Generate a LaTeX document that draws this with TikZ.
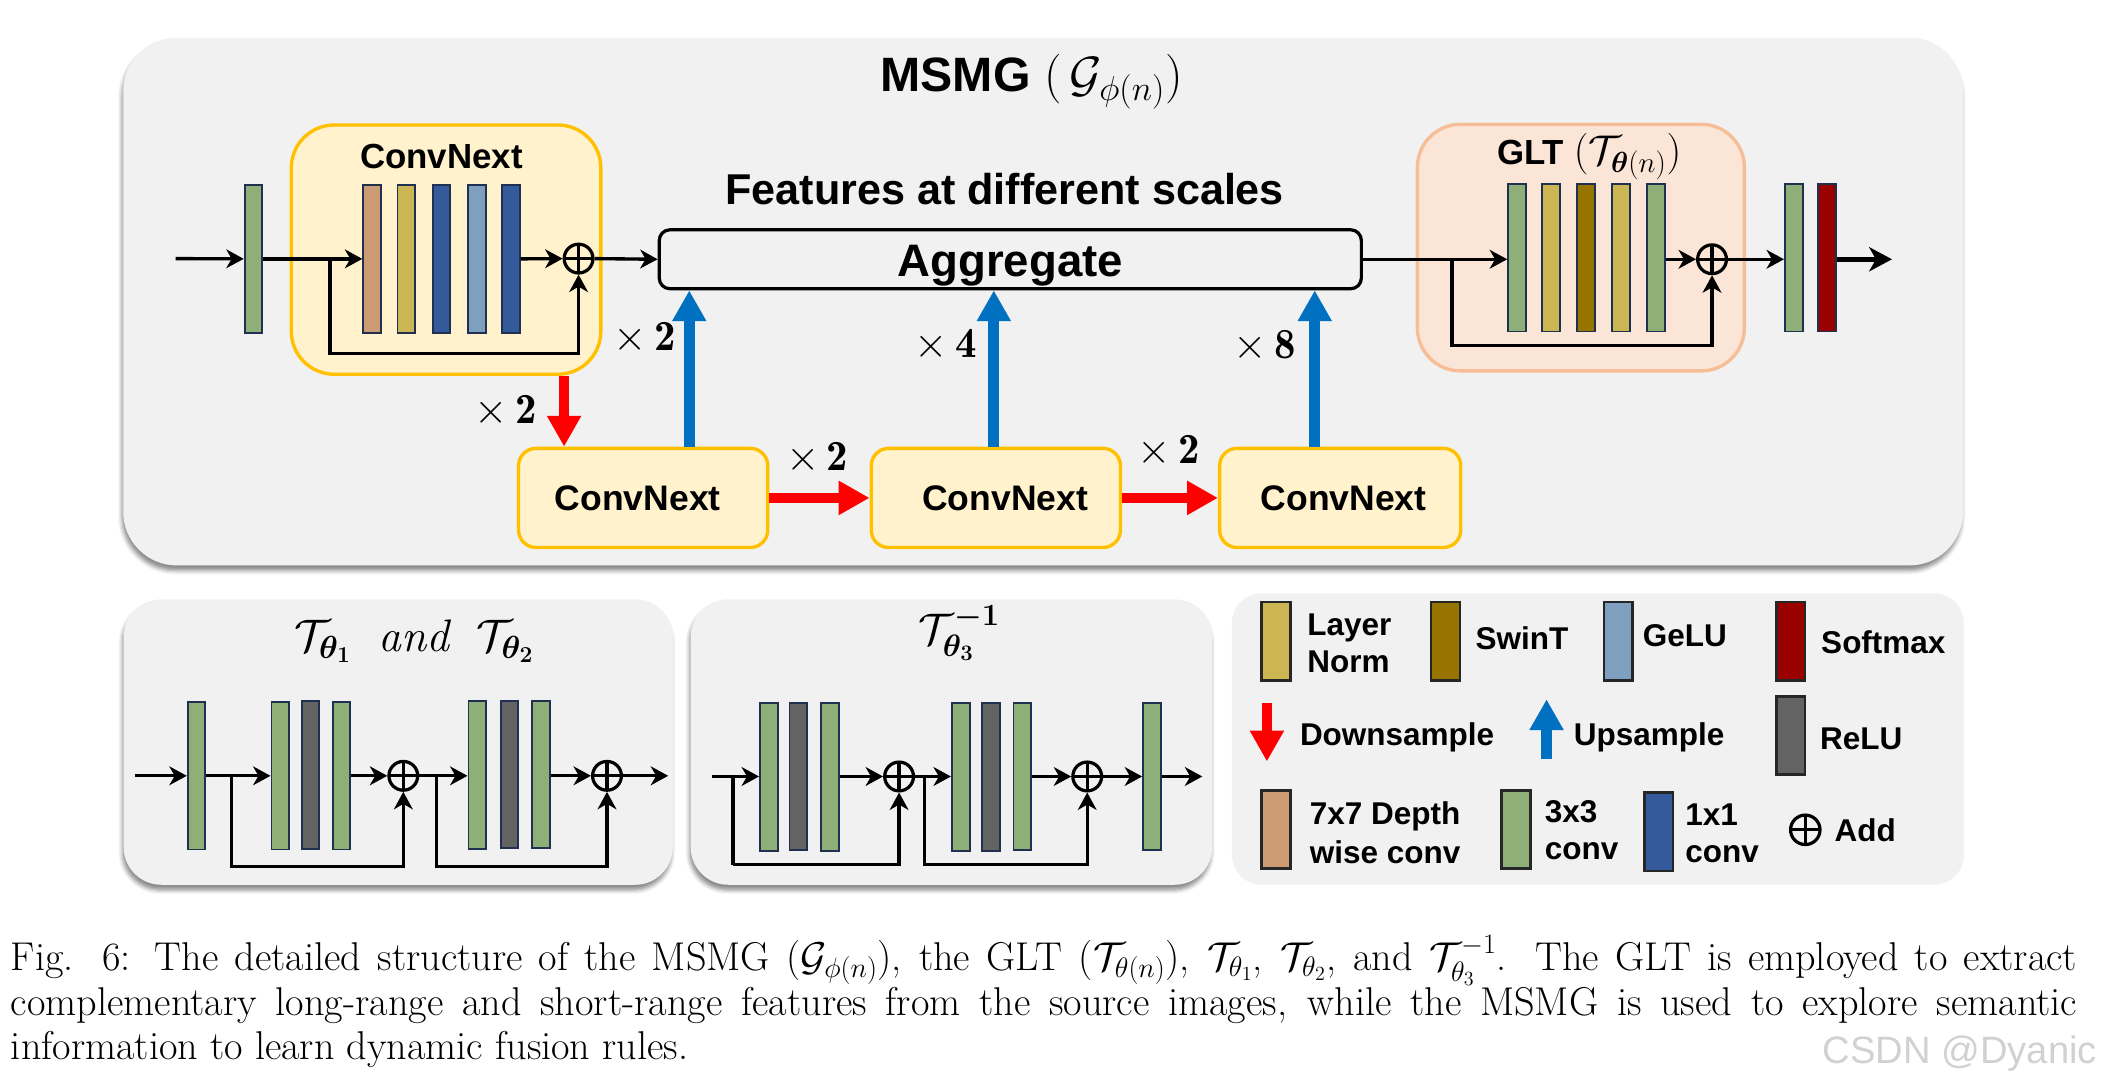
\RequirePackage{fix-cm}
\documentclass[tikz,border=0pt]{standalone}
\usepackage{amsmath,bm}
\usepackage{fontspec}
\newfontfamily\sansf{Liberation Sans}
\usetikzlibrary{arrows.meta,shadows.blur,calc}
\definecolor{panelbg}{HTML}{F1F1F1}
\definecolor{cnfill}{HTML}{FFF2CC}
\definecolor{cndraw}{HTML}{FFC000}
\definecolor{gltfill}{HTML}{FBE5D6}
\definecolor{gltdraw}{HTML}{F5BE96}
\definecolor{cgreen}{HTML}{8FAF78}
\definecolor{ctan}{HTML}{CD9B73}
\definecolor{cyel}{HTML}{CCB654}
\definecolor{cblue}{HTML}{345A9B}
\definecolor{clblue}{HTML}{7F9FBE}
\definecolor{cgold}{HTML}{977300}
\definecolor{cdred}{HTML}{990000}
\definecolor{cgray}{HTML}{636363}
\definecolor{barline}{HTML}{1F3050}
\definecolor{cred}{HTML}{FF0000}
\definecolor{cup}{HTML}{0070C0}
\tikzset{
  panel/.style={fill=panelbg, draw=none, inner sep=0pt,
    blur shadow={shadow xshift=-1pt, shadow yshift=-4pt, shadow blur radius=3pt, shadow opacity=45}},
  bar/.style={rectangle, draw=barline, line width=1.4pt, minimum width=13.2pt, minimum height=110pt, inner sep=0pt},
  legsw/.style={rectangle, draw=black!85, line width=2pt, minimum width=21.5pt, minimum height=58.5pt, inner sep=0pt},
  addnode/.style={circle, draw, line width=2.4pt, minimum size=21.5pt, inner sep=0pt,
    path picture={\draw[line width=2.4pt] (path picture bounding box.north) -- (path picture bounding box.south)
      (path picture bounding box.west) -- (path picture bounding box.east);}},
  arr/.style={line width=2.5pt, -{Stealth[length=13pt,width=14pt,inset=4pt]}},
  bigarr/.style={line width=3.6pt, -{Stealth[length=17pt,width=18pt,inset=5pt]}},
  redarr/.style={draw=cred, line width=7.5pt, -{Triangle[length=23pt,width=24pt]}},
  bluearr/.style={draw=cup, line width=8pt, -{Triangle[length=23pt,width=24pt]}},
  smallbox/.style={rectangle, rounded corners=13pt, fill=cnfill, draw=cndraw, line width=2.5pt,
    inner sep=0pt, font=\sansf\bfseries\fontsize{26.5}{30}\selectfont},
  lbl/.style={anchor=base, inner sep=0pt, font=\fontsize{32}{36}\selectfont},
  leg/.style={anchor=base west, inner sep=0pt, font=\sansf\bfseries\fontsize{23.5}{27}\selectfont},
  captext/.style={anchor=base west, inner sep=0pt, font=\fontsize{30}{34}\selectfont},
}
\begin{document}
\begin{tikzpicture}[x=1pt,y=-1pt]
\useasboundingbox (0,0) rectangle (1568,810);
% ---------------- main panel ----------------
\node[panel, rounded corners=40pt, minimum width=1373pt, minimum height=394pt] (main) at (778.5,225) {};
\node[anchor=base west, inner sep=0pt] (title) at (657,68)
  {\sansf\bfseries\fontsize{36}{40}\selectfont MSMG\ \normalfont\fontsize{37}{40}\selectfont$(\,\mathcal{G}_{\phi(n)})$};
% ConvNext block
\node[rectangle, rounded corners=32pt, fill=cnfill, draw=cndraw, line width=2.5pt,
  minimum width=231pt, minimum height=186pt, inner sep=0pt] (cn1) at (332.9,186.3) {};
\node[anchor=base, inner sep=0pt, font=\sansf\bfseries\fontsize{26}{30}\selectfont] (cn1t) at (329.5,125.6) {ConvNext};
\node[bar, fill=cgreen] (a0) at (189.2,193.2) {};
\node[bar, fill=ctan] (c1) at (277.7,193.2) {};
\node[bar, fill=cyel] (c2) at (303.3,193.2) {};
\node[bar, fill=cblue] (c3) at (329.5,193.2) {};
\node[bar, fill=clblue] (c4) at (355.8,193.2) {};
\node[bar, fill=cblue] (c5) at (381.3,193.2) {};
\node[addnode] (add1) at (431.8,193) {};
\coordinate (in0) at (131,193);
\coordinate (s1) at (246.2,193);
\coordinate (k1) at (246.2,263.7);
\draw[arr] (in0) -- (a0.west);
\draw[arr] (a0.east) -- (c1.west);
\draw[arr] (s1) -- (k1) -| (add1.south);
\draw[arr] (c5.east) -- (add1.west);
% Aggregate
\node[anchor=base, inner sep=0pt, font=\sansf\bfseries\fontsize{32.2}{36}\selectfont] (feat) at (749.8,152.5) {Features at different scales};
\node[rectangle, rounded corners=8pt, draw, line width=2.4pt, minimum width=524pt, minimum height=44pt, inner sep=0pt] (agg) at (754,193.5) {};
\node[anchor=base, inner sep=0pt, font=\sansf\bfseries\fontsize{34}{38}\selectfont] (aggt) at (754,206.5) {Aggregate};
\draw[arr] (add1.east) -- (agg.west);
% lower ConvNext boxes
\node[smallbox, minimum width=186pt, minimum height=74pt] (cb2) at (480,371.6) {\hspace*{-8pt}ConvNext};
\node[smallbox, minimum width=186pt, minimum height=74pt] (cb3) at (743.2,371.6) {ConvNext\hspace*{-14pt}};
\node[smallbox, minimum width=180pt, minimum height=74pt] (cb4) at (1000.2,371.6) {ConvNext\hspace*{-5pt}};
\coordinate (d1) at (421,300);
\coordinate (u1) at (514.4,300);
\coordinate (u2) at (741.7,300);
\coordinate (u3) at (981.2,300);
\draw[redarr] (cn1.south -| d1) -- (cb2.north -| d1);
\draw[bluearr] (cb2.north -| u1) -- (agg.south -| u1);
\draw[bluearr] (cb3.north -| u2) -- (agg.south -| u2);
\draw[bluearr] (cb4.north -| u3) -- (agg.south -| u3);
\draw[redarr] (cb2.east) -- (cb3.west);
\draw[redarr] (cb3.east) -- (cb4.west);
\node[lbl] (l1) at (377.5,316) {$\times\,\mathbf{2}$};
\node[lbl] (l2) at (481,261.6) {$\times\,\mathbf{2}$};
\node[lbl] (l3) at (610,351) {$\times\,\mathbf{2}$};
\node[lbl] (l4) at (705.7,267) {$\times\,\mathbf{4}$};
\node[lbl] (l5) at (872.3,345.6) {$\times\,\mathbf{2}$};
\node[lbl] (l6) at (944,267.5) {$\times\,\mathbf{8}$};
% GLT block
\node[rectangle, rounded corners=32pt, fill=gltfill, draw=gltdraw, line width=2.5pt,
  minimum width=244pt, minimum height=184pt, inner sep=0pt] (glt) at (1179.8,184.8) {};
\node[anchor=base, inner sep=0pt] (gltt) at (1186,123)
  {\sansf\bfseries\fontsize{26}{30}\selectfont GLT\ \normalfont\fontsize{31}{34}\selectfont$(\mathcal{T}_{\boldsymbol{\theta}(n)})$};
\node[bar, fill=cgreen] (g1) at (1132.1,192.4) {};
\node[bar, fill=cyel] (g2) at (1157.5,192.4) {};
\node[bar, fill=cgold] (g3) at (1183.5,192.4) {};
\node[bar, fill=cyel] (g4) at (1209.9,192.4) {};
\node[bar, fill=cgreen] (g5) at (1235.9,192.4) {};
\node[addnode] (add2) at (1277.7,193.5) {};
\node[bar, fill=cgreen] (o1) at (1338.7,192.4) {};
\node[bar, fill=cdred] (o2) at (1363.6,192.4) {};
\coordinate (s2) at (1083.5,193.5);
\coordinate (k2) at (1083.5,258);
\coordinate (out0) at (1412,193.5);
\draw[arr] (agg.east |- s2) -- (g1.west |- s2);
\draw[arr] (s2) -- (k2) -| (add2.south);
\draw[arr] (g5.east |- add2) -- (add2.west);
\draw[arr] (add2.east) -- (o1.west |- add2);
\draw[bigarr] (o2.east |- out0) -- (out0);
% ---------------- panel 1 ----------------
\node[panel, rounded corners=28pt, minimum width=409.8pt, minimum height=213pt] (pn1) at (297.2,553.8) {};
\node[anchor=base, inner sep=0pt, font=\fontsize{34}{38}\selectfont] (pn1t) at (309,486)
  {$\mathcal{T}_{\boldsymbol{\theta_1}}\ \ \mathit{and}\ \ \mathcal{T}_{\boldsymbol{\theta_2}}$};
\node[bar, fill=cgreen] (p1g0) at (146.7,579) {};
\node[bar, fill=cgreen] (p1a) at (209.2,579) {};
\node[bar, fill=cgray] (p1b) at (231.7,578.3) {};
\node[bar, fill=cgreen] (p1c) at (254.9,579) {};
\node[bar, fill=cgreen] (p1d) at (356.2,578.3) {};
\node[bar, fill=cgray] (p1e) at (380.2,578) {};
\node[bar, fill=cgreen] (p1f) at (403.8,578) {};
\node[addnode] (p1x1) at (301,579) {};
\node[addnode] (p1x2) at (453,579) {};
\coordinate (p1in) at (100.9,579);
\coordinate (p1s1) at (172.6,579);
\coordinate (p1k1) at (172.6,646.6);
\coordinate (p1s2) at (326,579);
\coordinate (p1k2) at (326,646.6);
\coordinate (p1out) at (498.7,579);
\draw[arr] (p1in) -- (p1g0.west |- p1in);
\draw[arr] (p1g0.east |- p1in) -- (p1a.west |- p1in);
\draw[arr] (p1s1) -- (p1k1) -| (p1x1.south);
\draw[arr] (p1c.east |- p1in) -- (p1x1.west);
\draw[arr] (p1x1.east) -- (p1d.west |- p1in);
\draw[arr] (p1s2) -- (p1k2) -| (p1x2.south);
\draw[arr] (p1f.east |- p1in) -- (p1x2.west);
\draw[arr] (p1x2.east) -- (p1out);
% ---------------- panel 2 ----------------
\node[panel, rounded corners=28pt, minimum width=389.2pt, minimum height=213pt] (pn2) at (710.1,553.8) {};
\node[anchor=base, inner sep=0pt, font=\fontsize{33}{36}\selectfont] (pn2t) at (716,481)
  {$\mathcal{T}^{\boldsymbol{-1}}_{\boldsymbol{\theta_3}}$};
\node[bar, fill=cgreen] (p2a) at (573.8,579.8) {};
\node[bar, fill=cgray] (p2b) at (595.8,579.5) {};
\node[bar, fill=cgreen] (p2c) at (619.5,579.8) {};
\node[bar, fill=cgreen] (p2d) at (717,579.8) {};
\node[bar, fill=cgray] (p2e) at (739.4,579.8) {};
\node[bar, fill=cgreen] (p2f) at (763,579.5) {};
\node[bar, fill=cgreen] (p2g) at (859.7,579.5) {};
\node[addnode] (p2x1) at (671,579.5) {};
\node[addnode] (p2x2) at (811.4,579.5) {};
\coordinate (p2in) at (531.5,579.5);
\coordinate (p2s1) at (547,579.5);
\coordinate (p2k1) at (547,645.4);
\coordinate (p2s2) at (690,579.5);
\coordinate (p2k2) at (690,645.4);
\coordinate (p2out) at (897.3,579.5);
\draw[arr] (p2in) -- (p2a.west |- p2in);
\draw[line width=2.5pt] (p2s1) -- (p2k1);
\draw[arr] (p2k1) -| (p2x1.south);
\draw[arr] (p2c.east |- p2in) -- (p2x1.west);
\draw[arr] (p2x1.east) -- (p2d.west |- p2in);
\draw[arr] (p2s2) -- (p2k2) -| (p2x2.south);
\draw[arr] (p2f.east |- p2in) -- (p2x2.west);
\draw[arr] (p2x2.east) -- (p2g.west |- p2in);
\draw[arr] (p2g.east |- p2in) -- (p2out);
% ---------------- legend ----------------
\node[fill=panelbg, rounded corners=22pt, minimum width=546.2pt, minimum height=217.5pt, inner sep=0pt] (leg) at (1192.5,551.5) {};
\node[legsw, fill=cyel] (sLN) at (952.2,478.5) {};
\node[legsw, fill=cgold] (sSW) at (1078.8,478.5) {};
\node[legsw, fill=clblue] (sGE) at (1207.8,478.5) {};
\node[legsw, fill=cdred] (sSM) at (1336.3,478.5) {};
\node[legsw, fill=cgray] (sRE) at (1336.3,548.8) {};
\node[legsw, fill=ctan] (s77) at (952.2,619) {};
\node[legsw, fill=cgreen] (s33) at (1131.3,619) {};
\node[legsw, fill=cblue] (s11) at (1237.8,620.7) {};
\node[addnode, minimum size=22pt] (sAD) at (1347.3,619.3) {};
\coordinate (ld1) at (945.5,524.4);
\coordinate (ld2) at (945.5,568.3);
\coordinate (lu1) at (1154.2,566.6);
\coordinate (lu2) at (1154.2,521.9);
\draw[redarr] (ld1) -- (ld2);
\draw[bluearr] (lu1) -- (lu2);
\node[leg] (tLN1) at (975.5,474) {Layer};
\node[leg] (tLN2) at (975.5,502) {Norm};
\node[leg] (tSW) at (1101,485) {SwinT};
\node[leg] (tGE) at (1225.8,482.6) {GeLU};
\node[leg] (tSM) at (1359,487.6) {Softmax};
\node[leg] (tDS) at (970,556) {Downsample};
\node[leg] (tUS) at (1174.4,556) {Upsample};
\node[leg] (tRE) at (1358.2,559) {ReLU};
\node[leg] (t771) at (977.3,615.5) {7x7 Depth};
\node[leg] (t772) at (977.3,644.1) {wise conv};
\node[leg] (t331) at (1152.7,614) {3x3};
\node[leg] (t332) at (1152.7,641.6) {conv};
\node[leg] (t111) at (1257.6,616.3) {1x1};
\node[leg] (t112) at (1257.6,643.6) {conv};
\node[leg] (tAD) at (1369,628) {Add};
% ---------------- caption ----------------
\node[captext] (cap1) at (8,724) {\makebox[1542pt][s]{Fig. 6: The detailed structure of the MSMG (\smash{$\mathcal{G}_{\phi(n)}$}), the GLT (\smash{$\mathcal{T}_{\theta(n)}$}), \smash{$\mathcal{T}_{\theta_1}$}, \smash{$\mathcal{T}_{\theta_2}$}, and \smash{$\mathcal{T}^{-1}_{\theta_3}$}. The GLT is employed to extract}};
\node[captext] (cap2) at (8,758) {\makebox[1542pt][s]{complementary long-range and short-range features from the source images, while the MSMG is used to explore semantic}};
\node[captext] (cap3) at (8,791) {information to learn dynamic fusion rules.};
\node[anchor=base west, inner sep=0pt, text=black!18, font=\sansf\fontsize{28.5}{32}\selectfont] (wm) at (1360,793.6) {CSDN @Dyanic};
\end{tikzpicture}
\end{document}
